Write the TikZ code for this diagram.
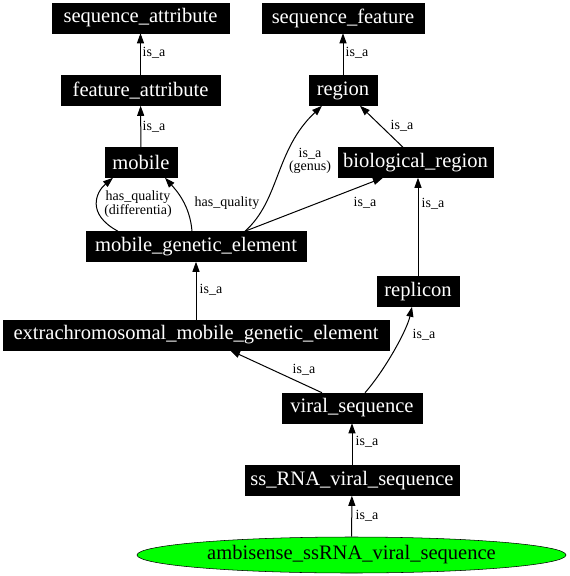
\documentclass[tikz,border=0pt]{standalone}
\usepackage{fontspec}
\setmainfont{Liberation Serif}
\usetikzlibrary{shapes}
\usetikzlibrary{arrows.meta}

\begin{document}
\begin{tikzpicture}[x=0.75pt, y=-0.75pt,
                    term/.style={fill=black, draw=black, text=white, inner xsep=1pt, inner ysep=0pt,
                                 minimum width=#1, minimum height=22.5pt, font=\fontsize{15.4}{17}\selectfont},
                    leaf/.style={ellipse, fill=green, draw=black, inner sep=0pt, minimum width=321.75pt,
                                 minimum height=27pt, font=\fontsize{15.4}{17}\selectfont},
                    isa/.style={-{Triangle[length=7.5pt,width=5.25pt]}, line width=0.75pt},
                    lbl/.style={inner sep=0pt, align=center, font=\fontsize{10.5}{9.5}\selectfont}]
    \useasboundingbox (0,0) rectangle (569,576);
    % terms, one row per rank
    \node[term=132.75pt] (seqattr) at (140.5,18) {sequence\_attribute};
    \node[term=121.5pt] (seqfeat) at (343,18) {sequence\_feature};
    \node[term=119.25pt] (featattr) at (140.5,90.5) {feature\_attribute};
    \node[term=51pt] (region) at (343,90.5) {region};
    \node[term=54pt] (mobile) at (141,162.5) {mobile};
    \node[term=116.25pt] (bioreg) at (415.5,162.5) {biological\_region};
    \node[term=165pt] (mge) at (196,246.5) {mobile\_genetic\_element};
    \node[term=61.5pt] (replicon) at (418,291.5) {replicon};
    \node[term=289.5pt] (extra) at (196,335) {extrachromosomal\_mobile\_genetic\_element};
    \node[term=105pt] (viral) at (352,408) {viral\_sequence};
    \node[term=160.5pt] (ssrna) at (352,480.5) {ss\_RNA\_viral\_sequence};
    \node[leaf] (ambi) at (351.5,555) {ambisense\_ssRNA\_viral\_sequence};
    % relations
    \draw[isa] (featattr) -- (seqattr) node[lbl] (l1) at (154,53) {is\_a};
    \draw[isa] (region) -- (seqfeat) node[lbl] (l2) at (357,53) {is\_a};
    \draw[isa] (mobile) -- (featattr) node[lbl] (l3) at (154,127) {is\_a};
    \draw[isa] ([xshift=-9.4pt]bioreg.north) -- ([xshift=12.75pt]region.south) node[lbl] (l4) at (402,126) {is\_a};
    \draw[isa] ([xshift=-58.5pt]mge.north) .. controls (86,214) and (96,192) .. ([xshift=-21pt]mobile.south)
        node[lbl] (l5) at (138,204) {has\_quality\\(differentia)};
    \draw[isa] ([xshift=-3pt]mge.north) .. controls (190,205) and (176,190) .. ([xshift=18pt]mobile.south)
        node[lbl] (l6) at (227,203) {has\_quality};
    \draw[isa] ([xshift=36.75pt]mge.north) .. controls (280,200) and (275,150) .. ([xshift=-15.75pt]region.south)
        node[lbl] (l7) at (310,161) {is\_a\\(genus)};
    \draw[isa] ([xshift=36.75pt]mge.north) -- ([xshift=-24.4pt]bioreg.south) node[lbl] (l8) at (365,203) {is\_a};
    \draw[isa] (replicon) -- (replicon |- bioreg.south) node[lbl] (l9) at (433,204) {is\_a};
    \draw[isa] (extra) -- (mge) node[lbl] (l10) at (211,290) {is\_a};
    \draw[isa] ([xshift=-22.5pt]viral.north) -- ([xshift=25.5pt]extra.south) node[lbl] (l11) at (304,370) {is\_a};
    \draw[isa] ([xshift=9.75pt]viral.north) .. controls (385,370) and (407,330) .. ([xshift=-4.5pt]replicon.south)
        node[lbl] (l12) at (424,335) {is\_a};
    \draw[isa] (ssrna) -- (viral) node[lbl] (l13) at (367,442) {is\_a};
    \draw[isa] (ambi) -- (ssrna) node[lbl] (l14) at (367,516) {is\_a};
\end{tikzpicture}
\end{document}
